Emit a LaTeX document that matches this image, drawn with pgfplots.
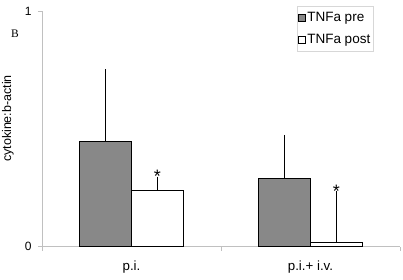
\documentclass[border=0pt]{standalone}
\usepackage{pgfplots}
\pgfplotsset{compat=1.18}
\usepackage{fontspec}
\setmainfont{Liberation Sans}
\newfontfamily\seriffont{Liberation Serif}
\definecolor{bargray}{RGB}{136,136,136}
\definecolor{axgray}{RGB}{192,192,192}
\definecolor{leggray}{RGB}{215,215,215}
\begin{document}
\begin{tikzpicture}
\begin{axis}[
  at={(0,0)}, anchor=south west,
  scale only axis, width=358pt, height=235.7pt,
  xmin=-0.5, xmax=1.5, ymin=0, ymax=1,
  clip=false,
  axis x line*=bottom, axis y line*=left,
  xtick pos=bottom, ytick pos=left,
  xticklabel pos=bottom, yticklabel pos=left,
  axis line style={axgray, line width=0.8pt},
  ybar, bar width=51.7pt,
  xtick={0,1}, xticklabels={p.i., p.i.+ i.v.},
  minor xtick={-0.5,0.5,1.5},
  ytick={0,1},
  tick align=outside,
  tick style={axgray, line width=0.8pt},
  major x tick style={draw=none},
  major tick length=4pt, minor tick length=4pt,
  /pgf/number format/assume math mode=true,
  x tick label style={font=\fontsize{13.3}{15}\selectfont, yshift=-7pt},
  y tick label style={font=\fontsize{12}{14}\selectfont, anchor=east, xshift=-3pt},
  ylabel={cytokine:b-actin},
  ylabel style={at={(axis description cs:-0.095,0.544)}, anchor=center, font=\fontsize{12.5}{14}\selectfont},
  legend style={at={(rel axis cs:0.9245,1.0212)}, anchor=north east, draw=leggray,
    font=\fontsize{13.5}{16}\selectfont, row sep=8pt, inner xsep=1pt, inner ysep=4.8pt,
    nodes={inner sep=1.5pt},
    legend cell align=left},
  legend image code/.code={\draw[#1,draw=black,line width=0.7pt] (0pt,-3.65pt) rectangle (7.3pt,3.65pt);},
]
\addplot[fill=bargray, draw=black, line width=0.8pt, bar shift=-25.85pt,
  error bars/.cd, y dir=plus, y explicit,
  error bar style={black, line width=1pt},
  error mark options={black, mark size=4pt, line width=1pt}]
  coordinates {(0,0.448) +- (0,0.288) (1,0.290) +- (0,0.167)};
\addplot[fill=white, draw=black, line width=0.8pt, bar shift=25.85pt,
  error bars/.cd, y dir=plus, y explicit,
  error bar style={black, line width=1pt},
  error mark options={black, mark size=4pt, line width=1pt}]
  coordinates {(0,0.238) +- (0,0.042) (1,0.017) +- (0,0.202)};
\legend{TNFa pre, TNFa post}
\node[inner sep=0pt, font=\fontsize{18}{20}\selectfont, yshift=-3.8pt, xshift=25.85pt] at (axis cs:0,0.314) {*};
\node[inner sep=0pt, font=\fontsize{18}{20}\selectfont, yshift=-3.8pt, xshift=25.85pt] at (axis cs:1,0.250) {*};
\node[inner sep=0pt, font=\seriffont\fontsize{11.5}{13}\selectfont] at (axis description cs:-0.0754,0.9045) {B};
\end{axis}
\pgfresetboundingbox
\useasboundingbox (-42pt,-32.3pt) rectangle (361pt,246.7pt);
\end{tikzpicture}
\end{document}
